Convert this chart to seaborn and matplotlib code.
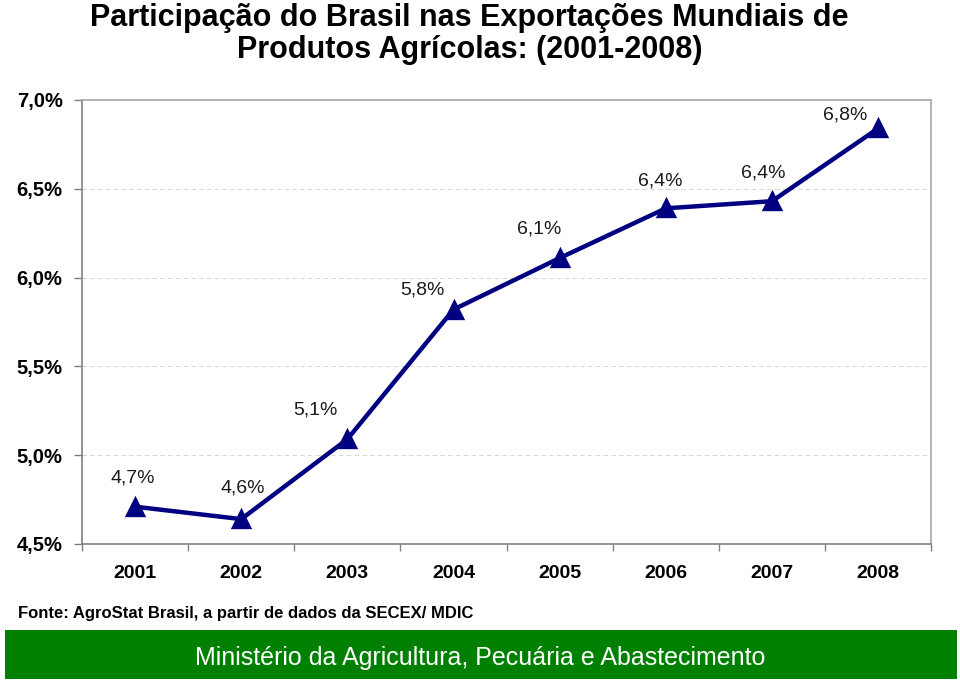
import numpy as np
import matplotlib
matplotlib.use('Agg')
import matplotlib.pyplot as plt
from matplotlib.ticker import FixedLocator, FuncFormatter
import seaborn as sns

years = ['2001', '2002', '2003', '2004', '2005', '2006', '2007', '2008']
share = [4.71, 4.64, 5.09, 5.82, 6.11, 6.39, 6.43, 6.84]
value_labels = ['4,7%', '4,6%', '5,1%', '5,8%', '6,1%', '6,4%', '6,4%', '6,8%']
y_ticks = [4.5, 5.0, 5.5, 6.0, 6.5, 7.0]

title = 'Participação do Brasil nas Exportações Mundiais de\nProdutos Agrícolas: (2001-2008)'
source = 'Fonte: AgroStat Brasil, a partir de dados da SECEX/ MDIC'
footer = 'Ministério da Agricultura, Pecuária e Abastecimento'

# label offsets in pixels (dx, dy) relative to each point
label_offsets = [(-2, 29), (2, 31), (-32, 29), (-31, 20), (-20, 29), (-6, 27), (-9, 28), (-33, 13)]

sns.set_style('white')
plt.rcParams['font.family'] = ['Liberation Sans', 'DejaVu Sans']
plt.rcParams['text.color'] = 'black'
plt.rcParams['xtick.labelcolor'] = 'black'
plt.rcParams['ytick.labelcolor'] = 'black'

fig = plt.figure(figsize=(9.6, 6.81), dpi=100)
ax = fig.add_axes([0.0854, 0.2012, 0.8846, 0.652])

sns.pointplot(x=years, y=share, color='#000080', markers='^', linestyles='-',
              markersize=11, linewidth=3.2, ax=ax)

ax.set_xlim(-0.5, len(years) - 0.5)
ax.set_ylim(4.5, 7.0)
ax.yaxis.set_major_locator(FixedLocator(y_ticks))
ax.yaxis.set_major_formatter(FuncFormatter(lambda v, p: f'{v:.1f}%'.replace('.', ',')))

for yv in y_ticks[1:-1]:
    ax.axhline(yv, color='#d8d8d8', linewidth=0.8, linestyle=(0, (4, 3)), zorder=0)

for spine in ['left', 'bottom']:
    ax.spines[spine].set_color('#808080')
    ax.spines[spine].set_linewidth(1.2)
for spine in ['top', 'right']:
    ax.spines[spine].set_color('#a6a6a6')
    ax.spines[spine].set_linewidth(1.2)

ax.tick_params(axis='y', which='major', direction='out', length=6, width=1,
               color='#808080', labelsize=14.5, pad=8, left=True)
ax.tick_params(axis='x', which='major', length=0, labelsize=14, pad=15)
ax.xaxis.set_minor_locator(FixedLocator(np.arange(-0.5, len(years), 1.0)))
ax.tick_params(axis='x', which='minor', direction='out', length=5, width=1,
               color='#808080', bottom=True)
for lab in ax.get_xticklabels() + ax.get_yticklabels():
    lab.set_fontweight('bold')
ax.set_xlabel('')
ax.set_ylabel('')

for i, (lbl, (dx, dy)) in enumerate(zip(value_labels, label_offsets)):
    ax.annotate(lbl, (i, share[i]), xytext=(dx, dy), textcoords='offset pixels',
                ha='center', va='center', fontsize=14, color='#1a1a1a')

fig.text(0.489, 0.996, title, ha='center', va='top', fontsize=22, fontweight='bold',
         linespacing=1.12, multialignment='center')

fig.text(0.019, 0.099, source, ha='left', va='center', fontsize=12, fontweight='bold')

fig.patches.append(plt.Rectangle((0.005, 0.003), 0.992, 0.072, transform=fig.transFigure,
                                 facecolor='#008000', edgecolor='none', zorder=0))
fig.text(0.5, 0.034, footer, ha='center', va='center', fontsize=18, color='white')

fig.savefig('out.png', dpi=100, facecolor='white')
